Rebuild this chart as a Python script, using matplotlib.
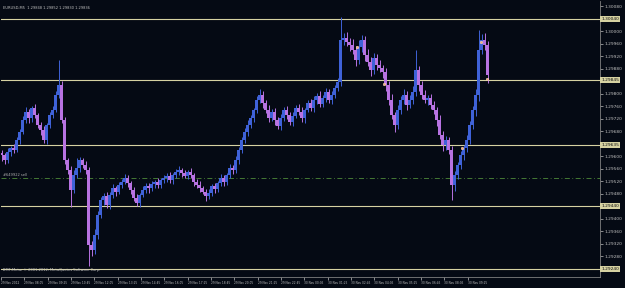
import matplotlib
matplotlib.use("Agg")
import matplotlib.pyplot as plt

# EURUSD M5 closes in points (1.29604 -> 129604)
closes = [
    129604, 129588, 129614, 129626, 129620, 129652, 129678, 129716, 129742, 129722,
    129754, 129732, 129700, 129684, 129652, 129700, 129732, 129748, 129796, 129828,
    129716, 129588, 129556, 129492, 129540, 129562, 129588, 129572, 129556, 129316,
    129300, 129348, 129412, 129460, 129473, 129444, 129476, 129498, 129486, 129508,
    129518, 129530, 129514, 129492, 129466, 129450, 129476, 129492, 129505, 129498,
    129511, 129518, 129508, 129524,
    129530, 129537, 129524, 129540, 129550, 129556, 129546, 129537, 129550, 129540,
    129518, 129508, 129498, 129486, 129473, 129482, 129505, 129495, 129514, 129530,
    129518, 129540, 129562, 129556, 129588, 129620, 129652, 129678, 129700, 129722,
    129748, 129780, 129796, 129770, 129748, 129722, 129742, 129716, 129697, 129722,
    129748, 129732, 129710, 129729, 129754, 129742, 129722, 129748, 129770, 129754,
    129780, 129793, 129767, 129786, 129806, 129780, 129796, 129818, 129838,
    129972, 129978, 129966, 129956, 129940, 129908, 129950, 129972, 129924, 129902,
    129876, 129914, 129892, 129882, 129870, 129828, 129780, 129732, 129700, 129748,
    129780, 129796, 129764, 129780, 129806, 129876, 129828, 129796, 129780, 129786,
    129764, 129748, 129716, 129668, 129636, 129652, 129620, 129508, 129540, 129572,
    129604, 129626, 129652, 129700, 129748, 129796, 129940, 129972, 129956, 129860,
]
first_open = 129610
# wick lengths beyond the body, in points
hi_wick = [
    10, 8, 12, 6, 14, 10, 8, 12, 16, 10, 8, 14, 6, 10, 12, 8, 10, 14, 12, 80,
    14, 10, 8, 12, 16, 32, 10, 8, 12, 10, 14, 18, 12, 10, 8, 12, 10, 14, 8, 10,
    8, 12, 10, 6, 10, 14, 8, 12, 10, 8, 10, 6, 12, 8,
    10, 8, 12, 6, 10, 14, 8, 10, 6, 12, 8, 10, 14, 8, 10, 12, 6, 10, 8, 12,
    10, 8, 12, 10, 14, 8, 10, 12, 16, 10, 8, 14, 20, 12, 10, 16, 8, 12, 10, 14,
    10, 12, 8, 14, 10, 12, 16, 8, 10, 12, 14, 8, 16, 10, 12, 8, 14, 10, 12,
    74, 16, 20, 12, 18, 14, 22, 16, 12, 20, 14, 18, 12, 16, 10, 14, 12, 18, 10, 16,
    14, 20, 12, 16, 18, 64, 14, 12, 16, 10, 14, 12, 10, 16, 12, 14, 10, 12, 14, 10,
    12, 10, 16, 14, 12, 18, 64, 20, 24, 14,
]
lo_wick = [
    20, 12, 8, 14, 10, 6, 12, 8, 10, 14, 12, 8, 10, 16, 8, 12, 10, 8, 6, 10,
    10, 14, 12, 54, 10, 8, 12, 10, 14, 67, 20, 12, 14, 10, 16, 8, 12, 10, 14, 8,
    10, 8, 12, 14, 10, 8, 12, 6, 10, 14, 8, 12, 10, 8,
    8, 12, 10, 14, 8, 10, 12, 6, 10, 8, 14, 10, 12, 8, 16, 10, 8, 12, 10, 8,
    12, 10, 8, 14, 10, 12, 8, 10, 14, 8, 12, 10, 8, 14, 10, 12, 8, 16, 10, 12,
    8, 12, 10, 14, 8, 10, 12, 16, 8, 10, 12, 14, 10, 8, 12, 10, 14, 8, 10,
    12, 16, 14, 20, 12, 18, 14, 16, 20, 12, 18, 14, 16, 12, 18, 20, 16, 14, 22, 12,
    14, 12, 16, 10, 14, 12, 18, 14, 10, 16, 12, 14, 18, 12, 20, 16, 14, 48, 18, 12,
    14, 16, 12, 14, 12, 18, 20, 14, 16, 24,
]

levels = [1.30040, 1.29845, 1.29635, 1.29440, 1.29240]
order_price = 1.29530
order_label = "#649922 sell"
trade_x = [118.5, 127.5, 153.5, 159.8, 161.8]
trade_y = [1.29950, 1.29831, 1.29626, 1.29966, 1.29847]
time_labels = ["29 Nov 2012", "29 Nov 08:05", "29 Nov 09:25", "29 Nov 10:45", "29 Nov 12:05",
               "29 Nov 13:25", "29 Nov 14:45", "29 Nov 16:05", "29 Nov 17:25", "29 Nov 18:45",
               "29 Nov 20:05", "29 Nov 21:25", "29 Nov 22:45", "30 Nov 00:05", "30 Nov 01:25",
               "30 Nov 02:45", "30 Nov 04:05", "30 Nov 05:25", "30 Nov 06:45", "30 Nov 08:05",
               "30 Nov 09:25"]
price_ticks = [1.30080 - 0.0004 * k for k in range(22)]
title = "EURUSD,M5  1.29848 1.29852 1.29830 1.29836"
footer = "BMF-Meta, \u00a9 2001-2012, MetaQuotes Software Corp."

bg = "#050a14"
up_col = "#3f62d8"
dn_col = "#b873e2"
level_col = "#d6d2a2"
txt_col = "#c0c0c0"

fig = plt.figure(figsize=(6.25, 2.88), dpi=100, facecolor=bg)
ax = fig.add_axes([1 / 625, 11 / 288, 599 / 625, 276 / 288], facecolor=bg)

opens = [first_open] + closes[:-1]
for i, (o, c, hw, lw) in enumerate(zip(opens, closes, hi_wick, lo_wick)):
    col = up_col if c >= o else dn_col
    top = max(o, c) + hw
    bot = min(o, c) - lw
    ax.vlines(i, bot / 1e5, top / 1e5, color=col, lw=0.7, zorder=3)
    h = (c - o) / 1e5
    if h == 0:
        h = 0.000015
    ax.bar(i, h, bottom=o / 1e5, width=0.7, color=col, lw=0, zorder=3)

for lv in levels:
    ax.axhline(lv, color=level_col, lw=0.8, zorder=2)
    ax.text(1.002, lv, "%.5f" % lv, transform=ax.get_yaxis_transform(), fontsize=3.2,
            color="#101010", va="center", ha="left", clip_on=False,
            bbox=dict(boxstyle="square,pad=0.25", fc=level_col, ec="none"))

ax.axhline(order_price, color="#4f8a3a", lw=0.6, ls=(0, (6, 3, 1, 3)), zorder=2)
ax.text(0.5, order_price + 0.00003, order_label, fontsize=2.6, color="#b0b0b0",
        va="bottom", ha="left")

ax.scatter(trade_x, trade_y, s=4, color="#f2a878", edgecolors="#ffffff", linewidths=0.2, zorder=5)

ax.set_xlim(-0.1667, 199.5)
ax.set_ylim(1.292136, 1.300968)

ticks = [t for t in price_ticks if min(abs(t - lv) for lv in levels) > 0.00018]
ax.yaxis.tick_right()
ax.set_yticks(ticks)
ax.set_yticklabels(["%.5f" % t for t in ticks])
ax.tick_params(axis="y", colors=txt_col, labelsize=3.2, length=2, width=0.5, pad=1.5)

xt = [7.778 * k - 0.1667 for k in range(len(time_labels))]
ax.set_xticks(xt)
ax.set_xticklabels(time_labels)
for lab in ax.get_xticklabels():
    lab.set_horizontalalignment("left")
ax.tick_params(axis="x", colors=txt_col, labelsize=2.1, length=2, width=0.5, pad=1)

for side in ["left", "top"]:
    ax.spines[side].set_visible(False)
for side in ["right", "bottom"]:
    ax.spines[side].set_color("#808080")
    ax.spines[side].set_linewidth(0.6)

ax.text(0.004, 0.975, title, transform=ax.transAxes, fontsize=2.6, color=txt_col,
        va="center", ha="left")
ax.text(0.003, 0.025, footer, transform=ax.transAxes, fontsize=2.6, color=txt_col,
        va="center", ha="left")

fig.savefig("out.png", dpi=100, facecolor=bg)
